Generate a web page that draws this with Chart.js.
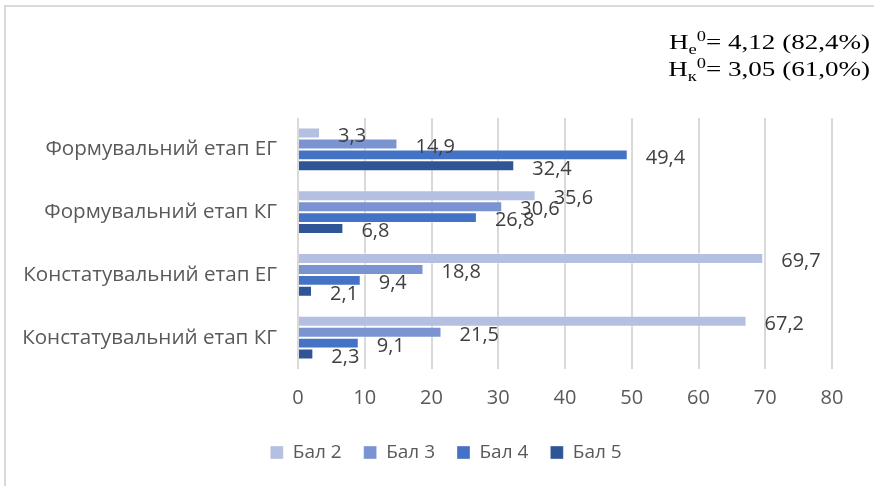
<!DOCTYPE html>
<html>
<head>
<meta charset="utf-8">
<script src="https://cdn.jsdelivr.net/npm/chart.js@4.4.0/dist/chart.umd.min.js"></script>
<style>
  html, body { margin: 0; padding: 0; background: #fff; }
  #wrap { position: relative; width: 874px; height: 486px; overflow: hidden; }
  #frame { position: absolute; left: 4px; top: 5px; width: 900px; height: 500px;
           border-left: 2px solid #d9d9d9; border-top: 2px solid #d9d9d9; }
  #chartBox { position: absolute; left: 0; top: 0; width: 874px; height: 486px; }
  #formula { position: absolute; right: 4px; top: 28px; text-align: right;
             font-family: "Liberation Serif", "Times New Roman", serif; font-size: 22px;
             line-height: 27px; color: #000; transform: scaleX(1.23); transform-origin: right top; }
  #formula sub { font-size: 15px; vertical-align: -5px; line-height: 0; }
  #formula sup { font-size: 15px; vertical-align: 8px; line-height: 0; }
</style>
</head>
<body>
<div id="wrap">
  <div id="frame"></div>
  <div id="chartBox"><canvas id="myChart" width="874" height="486"></canvas></div>
  <div id="formula">
    <div>Н<sub>е</sub><sup>0</sup>= 4,12 (82,4%)</div>
    <div>Н<sub>к</sub><sup>0</sup>= 3,05 (61,0%)</div>
  </div>
</div>
<script>
// categories (top to bottom)
const categories = ['Формувальний етап ЕГ', 'Формувальний етап КГ', 'Констатувальний етап ЕГ', 'Констатувальний етап КГ'];
const seriesNames = ['Бал 2', 'Бал 3', 'Бал 4', 'Бал 5'];
const bal2 = [3.3, 35.6, 69.7, 67.2];
const bal3 = [14.9, 30.6, 18.8, 21.5];
const bal4 = [49.4, 26.8, 9.4, 9.1];
const bal5 = [32.4, 6.8, 2.1, 2.3];
const xMin = 0;
const xMax = 80;
const xStep = 10;

const colors = ['#b4c0e1', '#7b94d1', '#4472c4', '#2f5597'];
const font = 'Open Sans';

// value labels next to bar ends
const barLabels = {
    id: 'barLabels',
    afterDatasetsDraw(chart) {
        const ctx = chart.ctx;
        ctx.save();
        ctx.font = '20px "' + font + '"';
        ctx.fillStyle = '#404040';
        ctx.textAlign = 'left';
        ctx.textBaseline = 'middle';
        chart.data.datasets.forEach((ds, i) => {
            const meta = chart.getDatasetMeta(i);
            meta.data.forEach((bar, j) => {
                const txt = ds.data[j].toFixed(1).replace('.', ',');
                ctx.fillText(txt, bar.x + 18, bar.y + 3);
            });
        });
        ctx.restore();
    }
};

// legend sits a bit right of the centre, like in the picture
const legendShift = {
    id: 'legendShift',
    afterLayout(chart) {
        chart.legend.left += 30;
        chart.legend.right += 30;
    }
};

const allSeries = [bal2, bal3, bal4, bal5];
const datasets = allSeries.map((vals, i) => ({
    label: seriesNames[i],
    data: vals,
    backgroundColor: colors[i],
    borderColor: 'rgba(255,255,255,0.35)',
    borderWidth: 1,
    categoryPercentage: 0.7,
    barPercentage: 1.0
}));

new Chart(document.getElementById('myChart'), {
    type: 'bar',
    data: { labels: categories, datasets: datasets },
    options: {
        responsive: false,
        animation: false,
        indexAxis: 'y',
        layout: { padding: { left: 0, right: 42, top: 118, bottom: 14 } },
        scales: {
            x: {
                min: xMin,
                max: xMax,
                ticks: { stepSize: xStep, color: '#595959', padding: 17, font: { family: font, size: 20 } },
                grid: { color: '#d9d9d9', lineWidth: 2, drawTicks: false },
                border: { display: false },
                afterFit(scale) { scale.height = 52; }
            },
            y: {
                ticks: { color: '#595959', padding: 21, font: { family: font, size: 20.6 } },
                grid: { display: false, drawTicks: false },
                border: { display: false },
                afterFit(scale) { scale.width = 298; }
            }
        },
        plugins: {
            legend: {
                position: 'bottom',
                labels: {
                    boxWidth: 13,
                    boxHeight: 13,
                    padding: 22,
                    color: '#595959',
                    font: { family: font, size: 19 }
                }
            },
            tooltip: { enabled: false }
        }
    },
    plugins: [barLabels, legendShift]
});
</script>
</body>
</html>
